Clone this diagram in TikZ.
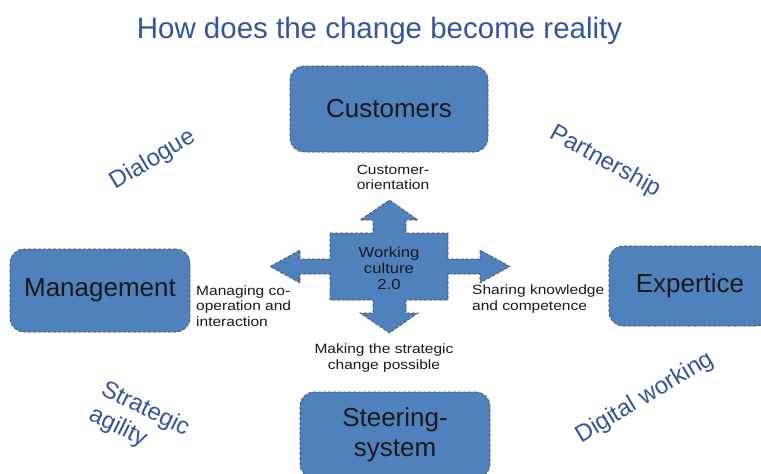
\documentclass[tikz,border=0pt]{standalone}
\usepackage{fontspec}
\setmainfont{Liberation Sans}
\newfontfamily\labelfont[FakeStretch=1.15]{Liberation Sans}
\usepackage{tikz}
\definecolor{boxblue}{RGB}{79,129,189}
\definecolor{titleblue}{RGB}{52,84,158}
\definecolor{rimgray}{RGB}{70,70,80}
\tikzstyle{box}=[rectangle, rounded corners=14pt, fill=boxblue, draw=rimgray, densely dashed, line width=0.6pt, align=center, inner sep=0pt, font=\fontsize{26}{30}\selectfont, text=black!90]
\tikzstyle{annot}=[inner sep=0pt, font=\labelfont\fontsize{13.5}{15.5}\selectfont, text=black!90]
\tikzstyle{diag}=[inner sep=0pt, align=left, font=\fontsize{24}{28}\selectfont, text=titleblue]
\newcommand{\drawcross}[0]
{
  \draw[fill=boxblue, draw=rimgray, densely dashed, line width=0.6pt]
    (330,233) -- (373,233) -- (373,220) -- (360,220) -- (389.5,200) -- (418,220) -- (406,220) -- (406,233)
    -- (448,233) -- (448,259) -- (480,259) -- (480,250) -- (510,266.5) -- (480,283) -- (480,274) -- (448,274)
    -- (448,300) -- (406,300) -- (406,313) -- (418,313) -- (389.5,333) -- (360,313) -- (373,313) -- (373,300)
    -- (330,300) -- (330,274) -- (300,274) -- (300,283) -- (270,266.5) -- (300,250) -- (300,259) -- (330,259) -- cycle;
}

\begin{document}
\begin{tikzpicture}[x=1pt, y=-1pt]
	\useasboundingbox (0,0) rectangle (761,474);
	\clip (0,0) rectangle (761,474);

	\node[anchor=base, inner sep=0pt, font=\fontsize{29.5}{36}\selectfont, text=titleblue](title) at (379.5,38){How does the change become reality};

	% the four corners
	\node[box, minimum width=198pt, minimum height=86pt](customers) at (389,109){Customers};
	\node[box, minimum width=180pt, minimum height=83pt](management) at (100,290.5){Management};
	\node[box, minimum width=162pt, minimum height=80pt](expertice) at (690,286){Expertice};
	\node[box, minimum width=190pt, minimum height=86pt](steering) at (395,435){Steering-\\system};

	\drawcross{}
	\node[annot, align=center, font=\labelfont\fontsize{14.5}{16}\selectfont](culture) at (389,268){Working\\culture\\2.0};

	\node[annot, align=center](orientation) at (393,177.5){Customer-\\orientation};
	\node[annot, align=left, anchor=west](managing) at (196,306){Managing co-\\operation and\\interaction};
	\node[annot, align=left, anchor=west](sharing) at (472,299){Sharing knowledge\\and competence};
	\node[annot, align=center](making) at (384,358){Making the strategic\\change possible};

	% diagonal words
	\node[diag, rotate=31](dialogue) at (153,160){Dialogue};
	\node[diag, rotate=-29](partnership) at (605,162){Partnership};
	\node[diag, rotate=-26](agility) at (139,422){Strategic\\agility};
	\node[diag, rotate=31](digital) at (645,398){Digital working};

\end{tikzpicture}
\end{document}
